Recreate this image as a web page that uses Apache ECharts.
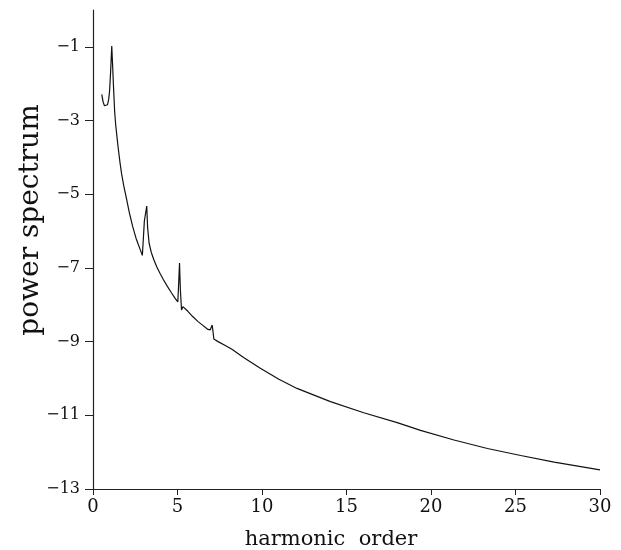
<!DOCTYPE html>
<html>
<head>
<meta charset="utf-8">
<script src="https://cdn.jsdelivr.net/npm/echarts@6/dist/echarts.min.js"></script>
<style>
html,body{margin:0;padding:0;background:#fff;}
#chart{width:621px;height:550px;}
</style>
</head>
<body>
<div id="chart"></div>
<script>
// harmonic order (x) and log power spectrum (y)
var harmonicOrder = [0.52,0.60,0.68,0.77,0.86,0.93,0.98,1.04,1.11,1.16,1.22,1.28,1.34,1.42,1.50,1.60,1.70,1.82,1.96,2.15,2.35,2.55,2.75,2.92,2.98,3.04,3.10,3.18,3.23,3.32,3.45,3.60,3.77,3.97,4.17,4.40,4.65,4.85,5.02,5.08,5.12,5.17,5.24,5.32,5.40,5.60,5.90,6.20,6.50,6.80,6.94,7.05,7.10,7.15,7.40,7.80,8.22,8.91,9.90,11.00,12.07,14.05,16.02,18.00,19.38,21.36,23.34,25.31,27.29,30.00];
var powerSpectrum = [-2.29,-2.50,-2.60,-2.64,-2.57,-2.42,-2.20,-1.70,-0.98,-1.50,-2.15,-2.75,-3.10,-3.45,-3.78,-4.15,-4.47,-4.77,-5.07,-5.50,-5.88,-6.20,-6.45,-6.66,-6.20,-5.72,-5.55,-5.32,-5.90,-6.33,-6.58,-6.78,-6.97,-7.15,-7.32,-7.50,-7.68,-7.82,-7.92,-7.30,-6.87,-7.60,-8.14,-8.05,-8.05,-8.17,-8.32,-8.45,-8.56,-8.67,-8.68,-8.55,-8.72,-8.93,-9.00,-9.10,-9.21,-9.43,-9.72,-10.02,-10.27,-10.63,-10.93,-11.20,-11.41,-11.67,-11.90,-12.09,-12.27,-12.48];
var xTicks = [0,5,10,15,20,25,30];
var yTicks = [-13,-11,-9,-7,-5,-3,-1];
var xTitle = 'harmonic  order';
var yTitle = 'power spectrum';

var seriesData = harmonicOrder.map(function(x,i){ return [x, powerSpectrum[i]]; });

var chart = echarts.init(document.getElementById('chart'), null, {renderer:'canvas'});
var serif = 'DejaVu Serif';
chart.setOption({
  animation:false,
  backgroundColor:'#ffffff',
  grid:{left:93, top:10, right:21, bottom:61, containLabel:false},
  graphic:[
    {type:'text', x:331, y:540, style:{text:xTitle, font:'21px "DejaVu Serif"', fill:'#111', textAlign:'center', textVerticalAlign:'middle'}},
    {type:'text', x:31, y:220, rotation:Math.PI/2, style:{text:yTitle, font:'28px "DejaVu Serif"', fill:'#111', textAlign:'center', textVerticalAlign:'middle'}}
  ],
  xAxis:{
    type:'value', min:0, max:30, interval:5,
    axisLine:{show:true, onZero:false, lineStyle:{color:'#222', width:1.2}},
    axisTick:{show:true, length:6, lineStyle:{color:'#222', width:1}, customValues:xTicks},
    axisLabel:{fontFamily:serif, fontSize:18, color:'#111', margin:9, customValues:xTicks},
    splitLine:{show:false}
  },
  yAxis:{
    type:'value', min:-13, max:0, interval:2,
    axisLine:{show:true, onZero:false, lineStyle:{color:'#222', width:1.2}},
    axisTick:{show:true, length:8, lineStyle:{color:'#222', width:1}, customValues:yTicks},
    axisLabel:{fontFamily:serif, fontSize:16, color:'#111', margin:13, customValues:yTicks,
      formatter:function(v){ return v===0 ? '' : (v<0 ? '\u2212' : '') + Math.abs(v); }},
    splitLine:{show:false}
  },
  series:[{
    type:'line', data:seriesData, showSymbol:false, smooth:false,
    lineStyle:{color:'#111', width:1.2}
  }]
});
</script>
</body>
</html>
